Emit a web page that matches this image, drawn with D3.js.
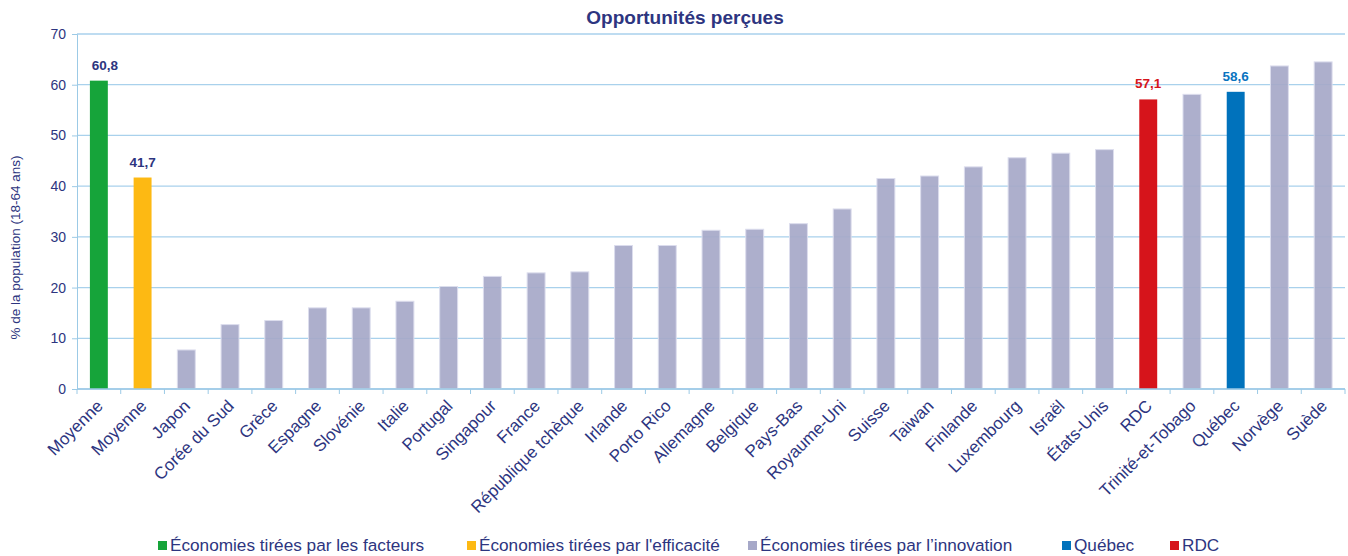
<!DOCTYPE html>
<html>
<head>
<meta charset="utf-8">
<script src="https://cdn.jsdelivr.net/npm/d3@7"></script>
<style>
  body { margin: 0; background: #fff; }
  text { font-family: "Liberation Sans", Arial, sans-serif; }
</style>
</head>
<body>
<svg id="chart"></svg>
<script>
// data
const categories = ["Moyenne", "Moyenne", "Japon", "Corée du Sud", "Grèce", "Espagne", "Slovénie", "Italie",
  "Portugal", "Singapour", "France", "République tchèque", "Irlande", "Porto Rico", "Allemagne", "Belgique",
  "Pays-Bas", "Royaume-Uni", "Suisse", "Taiwan", "Finlande", "Luxembourg", "Israël", "États-Unis", "RDC",
  "Trinité-et-Tobago", "Québec", "Norvège", "Suède"]
const values = [60.8, 41.7, 7.7, 12.7, 13.5, 16.0, 16.0, 17.3, 20.2, 22.2, 22.9, 23.1, 28.3, 28.3, 31.3, 31.5,
  32.6, 35.5, 41.5, 42.0, 43.8, 45.6, 46.5, 47.2, 57.1, 58.1, 58.6, 63.7, 64.5]
const groups = ["facteurs", "efficacite", "innovation", "innovation", "innovation", "innovation", "innovation",
  "innovation", "innovation", "innovation", "innovation", "innovation", "innovation", "innovation", "innovation",
  "innovation", "innovation", "innovation", "innovation", "innovation", "innovation", "innovation", "innovation",
  "innovation", "rdc", "innovation", "quebec", "innovation", "innovation"]
const labelled = [0, 1, 24, 26] // bars that carry a value label
const yTicks = [0, 10, 20, 30, 40, 50, 60, 70]
const legendKeys = ["facteurs", "efficacite", "innovation", "quebec", "rdc"]
const legendNames = ["Économies tirées par les facteurs", "Économies tirées par l'efficacité",
  "Économies tirées par l’innovation", "Québec", "RDC"]

const colors = {
  facteurs: "#16a43a",
  efficacite: "#fdb913",
  innovation: "#a6a8c8",
  quebec: "#0072bc",
  rdc: "#d6141b"
}
const labelColors = { facteurs: "#2d3580", efficacite: "#2d3580", quebec: "#0a74bf", rdc: "#d6141b" }
const navy = "#2d3580"

const W = 1348, H = 556
const margin = { top: 34, right: 3, bottom: 167, left: 77 }
const plotW = W - margin.left - margin.right
const plotH = H - margin.top - margin.bottom

const svg = d3.select("#chart").attr("width", W).attr("height", H)

const x = d3.scaleBand()
  .domain(d3.range(categories.length))
  .range([margin.left, margin.left + plotW])
  .paddingInner(0.59)
  .paddingOuter(0.295)

const y = d3.scaleLinear()
  .domain([0, 70])
  .range([margin.top + plotH, margin.top])

// title
svg.append("text")
  .attr("x", 685)
  .attr("y", 24)
  .attr("text-anchor", "middle")
  .attr("font-size", 19)
  .attr("font-weight", "bold")
  .attr("fill", navy)
  .text("Opportunités perçues")

// gridlines
svg.append("g")
  .selectAll("line")
  .data(yTicks)
  .enter()
  .append("line")
  .attr("x1", margin.left)
  .attr("x2", margin.left + plotW)
  .attr("y1", d => y(d))
  .attr("y2", d => y(d))
  .attr("stroke", "#a9d1ec")
  .attr("stroke-width", 1.3)

// bars
svg.append("g")
  .selectAll("rect")
  .data(values)
  .enter()
  .append("rect")
  .attr("x", (d, i) => x(i))
  .attr("y", d => y(d))
  .attr("width", x.bandwidth())
  .attr("height", d => y(0) - y(d))
  .attr("fill", (d, i) => colors[groups[i]])
  .attr("fill-opacity", (d, i) => groups[i] == "innovation" ? 0.92 : 1)
  .attr("stroke", (d, i) => groups[i] == "innovation" ? "#dcdded" : "none")
  .attr("stroke-width", 1)

// value labels (the first one sits a little to the right in the original)
svg.append("g")
  .selectAll("text")
  .data(labelled)
  .enter()
  .append("text")
  .attr("x", i => x(i) + x.bandwidth() / 2 + (i == 0 ? 6 : 0))
  .attr("y", i => y(values[i]) - 11)
  .attr("text-anchor", "middle")
  .attr("font-size", 13.5)
  .attr("font-weight", "bold")
  .attr("fill", i => labelColors[groups[i]])
  .text(i => values[i].toFixed(1).replace(".", ","))

// y axis
const yAxis = d3.axisLeft(y).tickValues(yTicks).tickSize(5).tickPadding(6)
const gy = svg.append("g")
  .attr("transform", "translate(" + margin.left + ",0)")
  .call(yAxis)
gy.select(".domain").attr("stroke", "#9ccae6")
gy.selectAll(".tick line").attr("stroke", "#9ccae6")
gy.selectAll(".tick text")
  .attr("font-size", 14)
  .attr("font-family", "Liberation Sans, Arial, sans-serif")
  .attr("fill", navy)

svg.append("text")
  .attr("transform", "translate(20," + (margin.top + plotH / 2 + 36) + ") rotate(-90)")
  .attr("text-anchor", "middle")
  .attr("font-size", 13.5)
  .attr("fill", navy)
  .text("% de la population (18-64 ans)")

// x axis line and ticks at band boundaries
const step = x.step()
const bounds = d3.range(categories.length + 1).map(i => margin.left + i * step)
svg.append("line")
  .attr("x1", margin.left)
  .attr("x2", margin.left + plotW)
  .attr("y1", y(0))
  .attr("y2", y(0))
  .attr("stroke", "#9ccae6")
  .attr("stroke-width", 1.3)
svg.append("g")
  .selectAll("line")
  .data(bounds)
  .enter()
  .append("line")
  .attr("x1", d => d)
  .attr("x2", d => d)
  .attr("y1", y(0))
  .attr("y2", y(0) + 5)
  .attr("stroke", "#9ccae6")

// rotated category labels
svg.append("g")
  .selectAll("text")
  .data(categories)
  .enter()
  .append("text")
  .attr("transform", (d, i) => "translate(" + (x(i) + x.bandwidth() / 2 + 5) + "," + (y(0) + 18) + ") rotate(-45)")
  .attr("text-anchor", "end")
  .attr("font-size", 17)
  .attr("fill", navy)
  .text(d => d)

// legend
const legendX = [158, 467, 748, 1062, 1170]
const legend = svg.append("g")
  .selectAll("g")
  .data(legendKeys)
  .enter()
  .append("g")
  .attr("transform", (d, i) => "translate(" + legendX[i] + ",541)")
legend.append("rect")
  .attr("width", 9)
  .attr("height", 9)
  .attr("fill", d => colors[d])
legend.append("text")
  .attr("x", 12)
  .attr("y", 10)
  .attr("font-size", 17.2)
  .attr("fill", navy)
  .text((d, i) => legendNames[i])
</script>
</body>
</html>
